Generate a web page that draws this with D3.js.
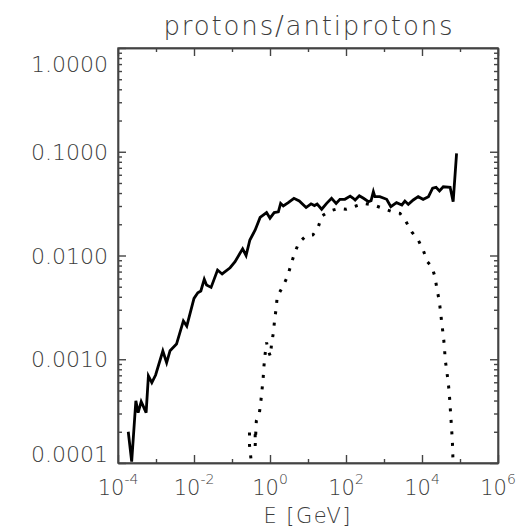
<!DOCTYPE html>
<html><head>
<meta charset="UTF-8">
<script src="https://cdn.jsdelivr.net/npm/d3@7"></script>
<style>
body{margin:0;background:#fff}
text{font-family:"DejaVu Sans",sans-serif;fill:#3c3c3c}
</style>
</head><body>
<svg id="chart" width="519" height="531"></svg>
<script>
// solid curve: protons/antiprotons ratio, x given as log10(E/GeV)
var solidLogE = [-3.73,-3.64,-3.53,-3.47,-3.39,-3.33,-3.26,-3.20,-3.11,-3.01,-2.82,-2.72,-2.63,-2.46,-2.28,-2.19,
  -2.00,-1.90,-1.82,-1.73,-1.67,-1.55,-1.38,-1.26,-1.05,-0.92,-0.79,-0.72,-0.63,-0.53,-0.39,-0.26,-0.09,0.00,
  0.11,0.22,0.28,0.35,0.48,0.63,0.77,0.95,1.08,1.17,1.24,1.36,1.49,1.62,1.74,1.84,1.97,2.11,2.19,2.24,2.35,
  2.46,2.59,2.66,2.72,2.76,2.89,3.07,3.18,3.33,3.47,3.55,3.64,3.77,3.90,4.03,4.17,4.28,4.37,4.46,4.56,4.74,
  4.82,4.91];
var solidRatio = [2.00e-4,1.03e-4,3.98e-4,3.05e-4,3.90e-4,3.49e-4,3.05e-4,6.90e-4,5.94e-4,7.05e-4,1.20e-3,
  9.27e-4,1.21e-3,1.40e-3,2.34e-3,2.09e-3,3.86e-3,4.38e-3,4.55e-3,5.90e-3,5.20e-3,4.93e-3,7.24e-3,6.64e-3,
  7.62e-3,8.71e-3,1.05e-2,1.16e-2,1.00e-2,1.41e-2,1.76e-2,2.33e-2,2.59e-2,2.29e-2,2.59e-2,2.64e-2,3.18e-2,
  3.00e-2,3.23e-2,3.56e-2,3.35e-2,2.90e-2,3.15e-2,3.03e-2,3.13e-2,2.79e-2,3.18e-2,3.56e-2,3.18e-2,3.48e-2,
  3.48e-2,3.74e-2,3.56e-2,3.43e-2,3.77e-2,3.56e-2,3.30e-2,3.38e-2,4.12e-2,3.69e-2,3.69e-2,3.48e-2,2.95e-2,
  3.23e-2,3.07e-2,3.35e-2,3.11e-2,3.43e-2,3.69e-2,3.48e-2,3.69e-2,4.45e-2,4.54e-2,4.19e-2,4.60e-2,4.54e-2,
  3.30e-2,9.66e-2];

// dotted curve
var dotLogE = [-0.47,-0.54,-0.54,-0.39,-0.39,-0.36,-0.28,-0.24,-0.21,-0.18,-0.16,-0.13,-0.09,-0.05,0.01,0.04,
  0.09,0.12,0.16,0.19,0.33,0.46,0.55,0.64,0.76,0.95,1.13,1.27,1.36,1.58,1.82,2.00,2.26,2.46,2.72,2.97,3.22,
  3.42,3.58,3.73,3.90,4.03,4.14,4.26,4.34,4.39,4.45,4.49,4.52,4.56,4.59,4.61,4.65,4.69,4.72,4.74,4.76,4.78,
  4.80,4.81,4.82];
var dotRatio = [8.6e-5,1.49e-4,1.99e-4,1.99e-4,1.46e-4,2.54e-4,3.01e-4,3.96e-4,5.06e-4,6.59e-4,8.51e-4,1.11e-3,
  1.45e-3,1.23e-3,1.07e-3,1.40e-3,1.81e-3,2.36e-3,3.05e-3,4.01e-3,4.97e-3,6.28e-3,8.09e-3,1.04e-2,1.33e-2,
  1.55e-2,1.58e-2,1.88e-2,2.40e-2,2.69e-2,2.85e-2,2.79e-2,3.00e-2,3.18e-2,3.07e-2,2.85e-2,2.64e-2,2.55e-2,
  2.12e-2,1.69e-2,1.41e-2,1.13e-2,8.71e-3,7.80e-3,6.25e-3,4.83e-3,3.72e-3,2.85e-3,2.22e-3,1.71e-3,1.32e-3,
  1.00e-3,7.76e-4,6.00e-4,4.59e-4,3.54e-4,2.75e-4,2.11e-4,1.60e-4,1.25e-4,8.6e-5];

var xMajor = [-4,-2,0,2,4,6];
var xMinor = [-3,-1,1,3,5];
var yMajor = [1e-4,1e-3,1e-2,1e-1,1];

var titleText = "protons/antiprotons";
var xTitle = "E [GeV]";

var L = 118, R = 498, T = 48, B = 463;
var svg = d3.select("#chart");
var x = d3.scaleLog().domain([1e-4,1e6]).range([L,R]);
var y = d3.scaleLog().domain([1e-4,1]).range([B,T]);

var yMinor = [];
yMajor.slice(0,-1).forEach(function(d){
  for (var k=2;k<10;k++) yMinor.push(d*k);
});

svg.append("clipPath").attr("id","clip")
  .append("rect").attr("x",L).attr("y",T).attr("width",R-L).attr("height",B-T);

var line = d3.line().x(function(d){return x(d[0]);}).y(function(d){return y(d[1]);});

var solid = solidLogE.map(function(e,i){return [Math.pow(10,e), solidRatio[i]];});
var dotted = dotLogE.map(function(e,i){return [Math.pow(10,e), dotRatio[i]];});

svg.append("path").datum(dotted).attr("d",line).attr("clip-path","url(#clip)")
  .attr("fill","none").attr("stroke","#000").attr("stroke-width",3)
  .attr("stroke-dasharray","3,8.5");
svg.append("path").datum(solid).attr("d",line).attr("clip-path","url(#clip)")
  .attr("fill","none").attr("stroke","#000").attr("stroke-width",2.8)
  .attr("stroke-linejoin","miter");

// axes, ticks pointing inward on all four sides
function styleAx(g){
  g.selectAll("path,line").attr("stroke","#444").attr("stroke-width",1.4);
}
var xMaj = xMajor.map(function(e){return Math.pow(10,e);});
var xMin = xMinor.map(function(e){return Math.pow(10,e);});

svg.append("g").attr("transform","translate(0,"+B+")")
  .call(d3.axisBottom(x).tickValues(xMaj).tickSize(-8).tickSizeOuter(0).tickFormat("")).call(styleAx);
svg.append("g").attr("transform","translate(0,"+B+")")
  .call(d3.axisBottom(x).tickValues(xMin).tickSize(-4).tickSizeOuter(0).tickFormat("")).call(styleAx);
svg.append("g").attr("transform","translate(0,"+T+")")
  .call(d3.axisTop(x).tickValues(xMaj).tickSize(-8).tickSizeOuter(0).tickFormat("")).call(styleAx);
svg.append("g").attr("transform","translate(0,"+T+")")
  .call(d3.axisTop(x).tickValues(xMin).tickSize(-4).tickSizeOuter(0).tickFormat("")).call(styleAx);

var yl = svg.append("g").attr("transform","translate("+L+",0)")
  .call(d3.axisLeft(y).tickValues(yMajor).tickSize(-8).tickSizeOuter(0).tickPadding(10)
    .tickFormat(d3.format(".4f"))).call(styleAx);
svg.append("g").attr("transform","translate("+L+",0)")
  .call(d3.axisLeft(y).tickValues(yMinor).tickSize(-4).tickSizeOuter(0).tickFormat("")).call(styleAx);
svg.append("g").attr("transform","translate("+R+",0)")
  .call(d3.axisRight(y).tickValues(yMajor).tickSize(-8).tickSizeOuter(0).tickFormat("")).call(styleAx);
svg.append("g").attr("transform","translate("+R+",0)")
  .call(d3.axisRight(y).tickValues(yMinor).tickSize(-4).tickSizeOuter(0).tickFormat("")).call(styleAx);

yl.selectAll("text").attr("font-size",22).attr("font-family","DejaVu Sans").attr("fill","#3c3c3c")
  .attr("font-weight",200)
  .attr("dy",function(d){ return d==1 ? "1.05em" : (d==1e-4 ? "-0.05em" : "0.35em"); });

// x tick labels as 10^n
xMajor.forEach(function(e){
  var t = svg.append("text").attr("x",x(Math.pow(10,e))).attr("y",495)
    .attr("text-anchor","middle").attr("font-size",21).attr("font-weight",200);
  t.append("tspan").text("10");
  t.append("tspan").attr("dy",-11).attr("font-size",14).text(e);
});

svg.append("text").attr("x",(L+R)/2).attr("y",35).attr("text-anchor","middle")
  .attr("font-size",26).attr("font-weight",200)
  .attr("textLength",289).attr("lengthAdjust","spacing").text(titleText);
svg.append("text").attr("x",307).attr("y",523).attr("text-anchor","middle")
  .attr("font-size",21).attr("font-weight",200)
  .attr("textLength",87).attr("lengthAdjust","spacing").text(xTitle);

// frame
svg.append("rect").attr("x",L).attr("y",T).attr("width",R-L).attr("height",B-T)
  .attr("fill","none").attr("stroke","#444").attr("stroke-width",1.4);
</script>
</body></html>
